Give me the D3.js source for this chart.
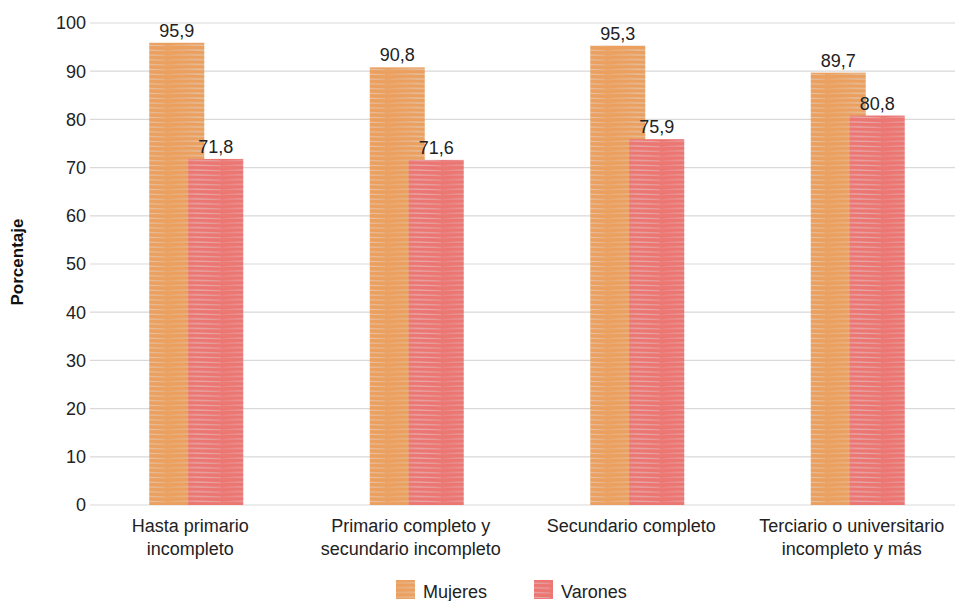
<!DOCTYPE html>
<html><head><meta charset="utf-8">
<script src="https://cdn.jsdelivr.net/npm/d3@7"></script>
<style>body{margin:0;background:#fff;} text{font-family:"Liberation Sans",Arial,sans-serif;}</style>
</head><body>
<svg id="c" width="957" height="601"></svg>
<script>
const categories = [["Hasta primario","incompleto"],["Primario completo y","secundario incompleto"],["Secundario completo"],["Terciario o universitario","incompleto y más"]];
const seriesNames = ["Mujeres","Varones"];
const mujeres = [95.9, 90.8, 95.3, 89.7];
const varones = [71.8, 71.6, 75.9, 80.8];
const yTicks = [0,10,20,30,40,50,60,70,80,90,100];
const colors = ["#EBA05F","#EC7672"];

const svg = d3.select("#c");
const defs = svg.append("defs");
colors.forEach((c,i)=>{
  const p = defs.append("pattern").attr("id","pat"+i).attr("patternUnits","userSpaceOnUse")
    .attr("width",55).attr("height",4.8);
  p.append("rect").attr("width",55).attr("height",4.8).attr("fill",c);
  const g = defs.append("linearGradient").attr("id","lg"+i);
  g.append("stop").attr("offset","0").attr("stop-color","#dfe3ea").attr("stop-opacity",0.1);
  g.append("stop").attr("offset","0.6").attr("stop-color","#dfe3ea").attr("stop-opacity",0.7);
  g.append("stop").attr("offset","1").attr("stop-color","#dfe3ea").attr("stop-opacity",0.4);
  p.append("path").attr("d","M0,3.2 C14,1.2 28,1.6 55,2.6").attr("fill","none")
    .attr("stroke","url(#lg"+i+")").attr("stroke-width",1);
});

const y = d3.scaleLinear().domain([0,100]).range([505,23]);
const x = d3.scaleBand().domain(d3.range(categories.length)).range([86,968]).padding(0);
const off = 19.5, bw = 55;

// gridlines
svg.append("g").selectAll("line").data(yTicks).join("line")
  .attr("x1",90).attr("x2",955).attr("y1",d=>y(d)).attr("y2",d=>y(d))
  .attr("stroke","#d9d9d9").attr("stroke-width",1.2);

// y axis labels
svg.append("g").selectAll("text").data(yTicks).join("text")
  .attr("x",86).attr("y",d=>y(d)).attr("dy","0.35em").attr("text-anchor","end")
  .attr("font-size",18).attr("fill","#222").text(d=>d);

svg.append("text").attr("transform","translate(23,262) rotate(-90)")
  .attr("text-anchor","middle").attr("font-size",17).attr("font-weight","bold").attr("fill","#111").text("Porcentaje");

const data = [mujeres, varones];
data.forEach((vals,si)=>{
  const g = svg.append("g");
  g.selectAll("rect").data(vals).join("rect")
    .attr("x",(d,i)=>x(i)+x.bandwidth()/2+(si?off:-off)-bw/2)
    .attr("width",bw)
    .attr("y",d=>y(d)).attr("height",d=>y(0)-y(d))
    .attr("fill","url(#pat"+si+")");
  g.selectAll("text").data(vals).join("text")
    .attr("x",(d,i)=>x(i)+x.bandwidth()/2+(si?off:-off))
    .attr("y",d=>y(d)-6).attr("text-anchor","middle").attr("font-size",18).attr("fill","#222")
    .text(d=>d3.format(".1f")(d).replace(".",","));
});

// category labels
const cl = svg.append("g");
categories.forEach((lines,i)=>{
  const t = cl.append("text").attr("text-anchor","middle").attr("font-size",18).attr("fill","#222");
  lines.forEach((ln,j)=>t.append("tspan").attr("x",x(i)+x.bandwidth()/2-6).attr("y",532+j*23).text(ln));
});

// legend
const lg = svg.append("g");
const lx = [396, 534];
seriesNames.forEach((n,i)=>{
  lg.append("rect").attr("x",lx[i]).attr("y",580).attr("width",19).attr("height",19).attr("fill","url(#pat"+i+")");
  lg.append("text").attr("x",lx[i]+27).attr("y",598).attr("font-size",18).attr("fill","#222").text(n);
});
</script>
</body></html>
